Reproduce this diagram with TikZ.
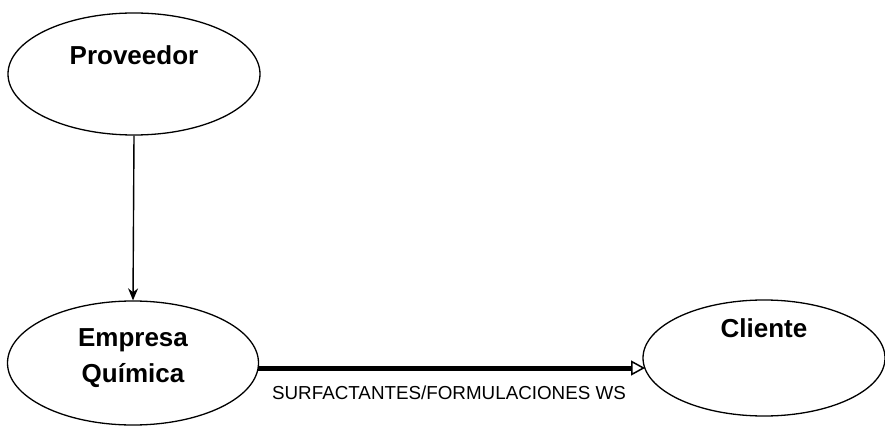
\documentclass[tikz,border=0pt]{standalone}
\usepackage{fontspec}
\setmainfont{Liberation Sans}
\usetikzlibrary{shapes.geometric,arrows.meta}
\begin{document}
\begin{tikzpicture}[x=1pt,y=-1pt,
  ent/.style={draw,ellipse,line width=1.3pt,inner sep=0pt},
  lbl/.style={font=\fontsize{26}{36}\selectfont\bfseries,align=center},
  flow/.style={line width=1.4pt,-{Stealth[length=12pt,width=10pt]}},
  bigflow/.style={line width=5pt,-{Triangle[open,length=14pt,width=15pt,line width=1.5pt]}}]
\useasboundingbox (0,0) rectangle (885,427);
\node[ent,minimum width=252pt,minimum height=122pt] (prov) at (134,74) {};
\node[ent,minimum width=251pt,minimum height=124pt] (emp) at (133,363) {};
\node[ent,minimum width=242pt,minimum height=116pt] (cli) at (764,358) {};
\node[lbl] (tprov) at (134,55) {Proveedor};
\node[lbl] (temp) at (133,358) {Empresa\\Química};
\node[lbl] (tcli) at (764,328) {Cliente};
\draw[flow] (prov.south) -- (emp.north);
\coordinate (a) at (258,368);
\coordinate (b) at (645,368);
\draw[bigflow] (a) -- (b);
\node[font=\fontsize{18.8}{22}\selectfont] (flbl) at (449,393) {SURFACTANTES/FORMULACIONES WS};
\end{tikzpicture}
\end{document}
